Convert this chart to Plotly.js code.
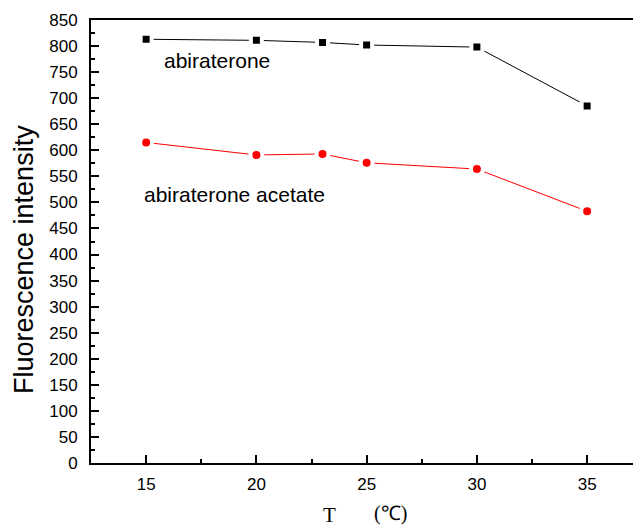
<!DOCTYPE html>
<html>
<head>
<meta charset="utf-8">
<script src="https://cdn.plot.ly/plotly-3.0.1.min.js"></script>
<style>html,body{margin:0;padding:0;background:#fff;}#chart{width:633px;height:526px;}</style>
</head>
<body>
<div id="chart"></div>
<script>
const temperatures = [15, 20, 23, 25, 30, 35];
const abiraterone = [813, 811, 807, 802, 798, 685];
const abirateroneAcetate = [615, 591, 593, 576, 564, 483];
const seriesNames = ["abiraterone", "abiraterone acetate"];
const yTickVals = [0,50,100,150,200,250,300,350,400,450,500,550,600,650,700,750,800,850];
const xTickVals = [15, 20, 25, 30, 35];

const W = 633, H = 526, L = 91, T = 20, B = 63, R = 0;
const pw = W - L - R, ph = H - T - B;
const px = x => (x - L) / pw;
const py = y => (H - B - y) / ph;
const font = "Liberation Sans, Arial, sans-serif";

const traces = [
  {
    x: temperatures, y: abiraterone, name: seriesNames[0], type: "scatter", mode: "lines+markers",
    line: {color: "#000000", width: 1},
    marker: {symbol: "square", size: 11, color: "#000000", line: {color: "#ffffff", width: 4}}
  },
  {
    x: temperatures, y: abirateroneAcetate, name: seriesNames[1], type: "scatter", mode: "lines+markers",
    line: {color: "#ff0000", width: 1},
    marker: {symbol: "circle", size: 12, color: "#ff0000", line: {color: "#ffffff", width: 4}}
  }
];

const layout = {
  width: W, height: H,
  margin: {l: L, r: R, t: T, b: B, pad: 0},
  paper_bgcolor: "#ffffff", plot_bgcolor: "#ffffff",
  showlegend: false,
  font: {family: font, color: "#000000", size: 17},
  xaxis: {
    range: [12.5, 37.08], tickvals: xTickVals, ticktext: xTickVals.map(String),
    showgrid: false, zeroline: false, showline: true, linecolor: "#000", linewidth: 2, mirror: true,
    ticks: "inside", ticklen: 8, tickwidth: 2, tickcolor: "#000",
    minor: {dtick: 2.5, tick0: 15, ticks: "inside", ticklen: 4, tickwidth: 2, tickcolor: "#000", showgrid: false},
    tickfont: {family: font, size: 17}, ticklabelstandoff: 5
  },
  yaxis: {
    range: [0, 850], tickvals: yTickVals, ticktext: yTickVals.map(String),
    showgrid: false, zeroline: false, showline: true, linecolor: "#000", linewidth: 2, mirror: false,
    ticks: "inside", ticklen: 8, tickwidth: 2, tickcolor: "#000",
    minor: {dtick: 25, tick0: 0, ticks: "inside", ticklen: 4, tickwidth: 2, tickcolor: "#000", showgrid: false},
    tickfont: {family: font, size: 17}, ticklabelstandoff: 8
  },
  annotations: [
    {text: "Fluorescence intensity", xref: "paper", yref: "paper", x: px(24), y: py(260), textangle: -90,
     showarrow: false, xanchor: "center", yanchor: "middle", font: {family: font, size: 27}},
    {text: seriesNames[0], xref: "paper", yref: "paper", x: px(162), y: py(61), showarrow: false,
     xanchor: "left", yanchor: "middle", font: {family: font, size: 21}},
    {text: seriesNames[1], xref: "paper", yref: "paper", x: px(142), y: py(194), showarrow: false,
     xanchor: "left", yanchor: "middle", font: {family: font, size: 21}},
    {text: "T", xref: "paper", yref: "paper", x: px(329), y: py(515), showarrow: false,
     xanchor: "center", yanchor: "middle", font: {family: "Liberation Serif, Times New Roman, serif", size: 21}},
    {text: "(℃)", xref: "paper", yref: "paper", x: px(390), y: py(513), showarrow: false,
     xanchor: "center", yanchor: "middle", font: {family: "Liberation Serif, Times New Roman, serif", size: 20}}
  ]
};

Plotly.newPlot("chart", traces, layout, {displayModeBar: false, staticPlot: true});
</script>
</body>
</html>
